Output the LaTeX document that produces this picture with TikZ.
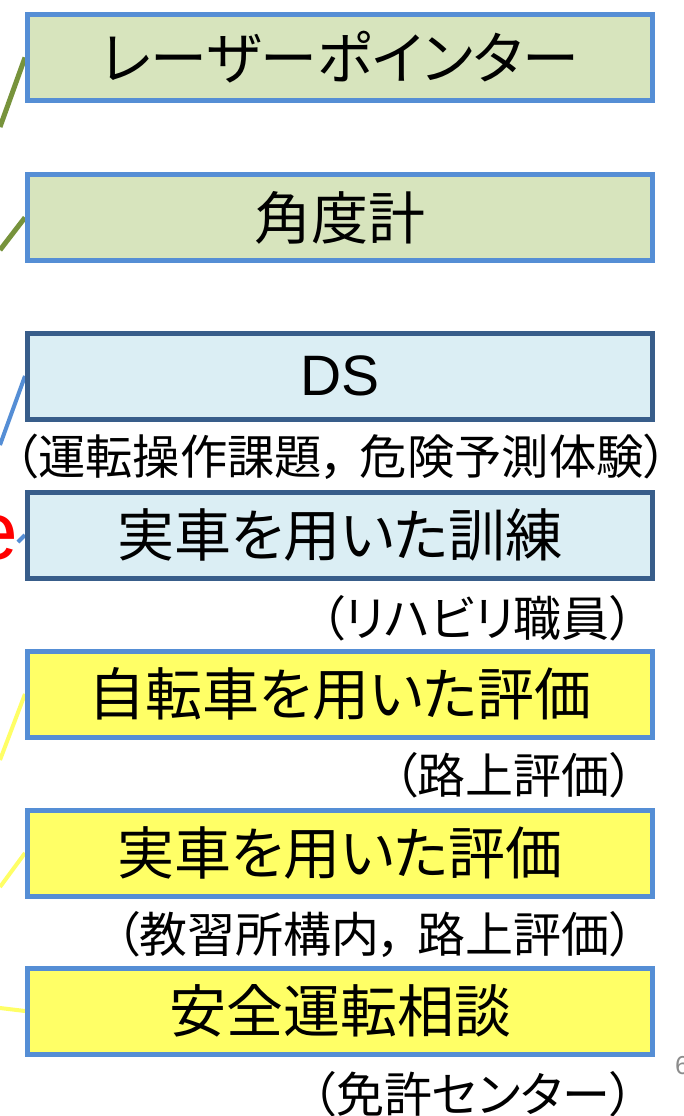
\documentclass[tikz,border=0pt]{standalone}
\usepackage{fontspec}
\setmainfont{Noto Sans CJK JP}[RawFeature=+palt]
\newfontfamily\latinsans{Liberation Sans}
\usetikzlibrary{backgrounds}
\definecolor{boxblue}{HTML}{558ED5}
\definecolor{darkblue}{HTML}{385D8A}
\definecolor{greenfill}{HTML}{D7E4BD}
\definecolor{bluefill}{HTML}{DBEEF4}
\definecolor{yellowfill}{HTML}{FFFF66}
\definecolor{greenline}{HTML}{77933C}
\definecolor{yellowline}{HTML}{FFFF66}
\definecolor{pagegray}{HTML}{8C8C8C}
\newcommand{\jcomma}{，\hspace{0.3em}}
\tikzset{
  basebox/.style={draw, line width=5pt, inner sep=0pt, minimum width=625pt, minimum height=86pt,
    font=\fontsize{57}{64}\selectfont},
  greenbox/.style={basebox, draw=boxblue, fill=greenfill},
  dsbox/.style={basebox, draw=darkblue, fill=bluefill},
  yellowbox/.style={basebox, draw=boxblue, fill=yellowfill},
  caption/.style={inner sep=0pt, font=\fontsize{48}{54}\selectfont},
  gline/.style={draw=greenline, line width=5pt},
  bline/.style={draw=boxblue, line width=4pt},
  yline/.style={draw=yellowline, line width=4pt},
}
\begin{document}
\begin{tikzpicture}[x=1pt,y=-1pt]
\useasboundingbox (0,0) rectangle (684,1116);
\clip (0,0) rectangle (684,1116);

\node[greenbox] (b1) at (340,57.5) {レーザーポインター};
\node[greenbox] (b2) at (340,217.5) {角度計};
\node[dsbox] (b3) at (340,376) {\latinsans DS};
\node[caption, font=\fontsize{47.3}{54}\selectfont] (c3) at (341,457) {（運転操作課題\jcomma 危険予測体験）};
\node[dsbox] (b4) at (340,535) {実車を用いた訓練};
\node[caption, anchor=east] (c4) at (634,618) {（リハビリ職員）};
\node[yellowbox] (b5) at (340,694) {自転車を用いた評価};
\node[caption, anchor=east] (c5) at (634,775) {（路上評価）};
\node[yellowbox] (b6) at (340,853) {実車を用いた評価};
\node[caption, anchor=east] (c6) at (634,935) {（教習所構内\jcomma 路上評価）};
\node[yellowbox] (b7) at (340,1011) {安全運転相談};
\node[caption, anchor=east] (c7) at (634,1094) {（免許センター）};

\coordinate (g1) at (0,127);
\coordinate (g2) at (0,250);
\coordinate (d1) at (0,445);
\coordinate (r1) at (18,542);
\coordinate (y1) at (0,760);
\coordinate (y2) at (0,887);
\coordinate (y3) at (0,1008);

\begin{scope}[on background layer]
\fill[white] (0,0) rectangle (684,1116);
\draw[gline] (g1) -- (b1.west);
\draw[gline] (g2) -- (b2.west);
\draw[bline] (d1) -- (b3.west);
\draw[bline] (r1) -- (b4.west);
\draw[yline] (y1) -- (b5.west);
\draw[yline] (y2) -- (b6.west);
\draw[yline] (y3) -- (b7.west);
\end{scope}

\node[anchor=east, inner sep=0pt, text=red, font=\latinsans\fontsize{82}{90}\selectfont] (ered) at (18,538) {e};
\node[anchor=west, inner sep=0pt, text=pagegray, font=\latinsans\fontsize{26}{30}\selectfont] (pnum) at (675,1066) {6};
\end{tikzpicture}
\end{document}
